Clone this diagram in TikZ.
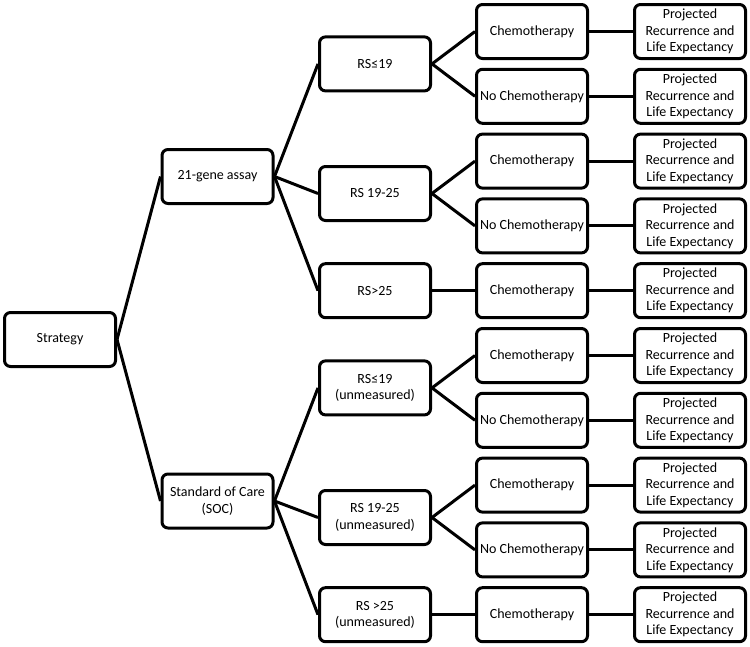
\documentclass[tikz,border=0pt]{standalone}
\usepackage{fontspec}
\setmainfont{Carlito}
\begin{document}
\begin{tikzpicture}[x=1pt,y=-1pt,
  box/.style={draw, line width=3pt, rounded corners=6pt, minimum width=111pt,
    minimum height=54pt, align=center, inner sep=0pt,
    font=\fontsize{14}{16.5}\selectfont},
  link/.style={line width=3pt}]
\useasboundingbox (0,0) rectangle (750,646);
% level 0 and 1
\node[box] (s) at (60,339.5) {Strategy};
\node[box] (a) at (217.5,176.5) {21-gene assay};
\node[box] (b) at (217.5,501) {Standard of Care\\(SOC)};
% level 2
\node[box] (a1) at (375,63.9) {RS≤19};
\node[box] (a2) at (375,193.5) {RS 19-25};
\node[box] (a3) at (375,290.7) {RS>25};
\node[box] (b1) at (375,387.9) {RS≤19\\(unmeasured)};
\node[box] (b2) at (375,517.5) {RS 19-25\\(unmeasured)};
\node[box] (b3) at (375,614.7) {RS >25\\(unmeasured)};
% level 3 and 4
\foreach \i/\y/\t in {0/31.5/Chemotherapy, 1/96.3/No Chemotherapy, 2/161.1/Chemotherapy,
  3/225.9/No Chemotherapy, 4/290.7/Chemotherapy, 5/355.5/Chemotherapy,
  6/420.3/No Chemotherapy, 7/485.1/Chemotherapy, 8/549.9/No Chemotherapy,
  9/614.7/Chemotherapy} {
  \node[box] (t\i) at (532,\y) {\t};
  \node[box] (o\i) at (690,\y) {Projected\\Recurrence and\\Life Expectancy};
  \draw[link] (t\i.east) -- (o\i.west);
}
% connectors
\draw[link] (s.east) -- (a.west);
\draw[link] (s.east) -- (b.west);
\draw[link] (a.east) -- (a1.west);
\draw[link] (a.east) -- (a2.west);
\draw[link] (a.east) -- (a3.west);
\draw[link] (b.east) -- (b1.west);
\draw[link] (b.east) -- (b2.west);
\draw[link] (b.east) -- (b3.west);
\draw[link] (a1.east) -- (t0.west);
\draw[link] (a1.east) -- (t1.west);
\draw[link] (a2.east) -- (t2.west);
\draw[link] (a2.east) -- (t3.west);
\draw[link] (a3.east) -- (t4.west);
\draw[link] (b1.east) -- (t5.west);
\draw[link] (b1.east) -- (t6.west);
\draw[link] (b2.east) -- (t7.west);
\draw[link] (b2.east) -- (t8.west);
\draw[link] (b3.east) -- (t9.west);
\end{tikzpicture}
\end{document}
